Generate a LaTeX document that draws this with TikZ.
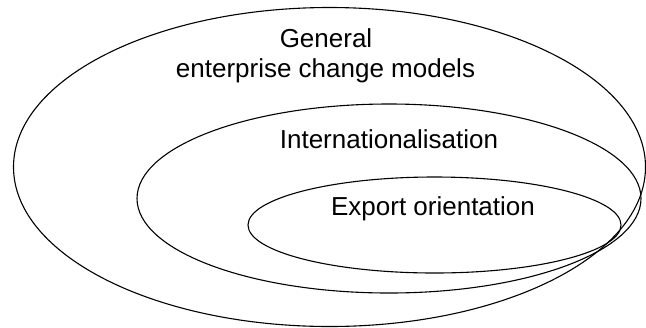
\documentclass[tikz,border=0pt]{standalone}
\usepackage{fontspec}
\setmainfont{Liberation Sans}
\begin{document}
\begin{tikzpicture}[x=1bp,y=-1bp,
  ring/.style={draw=black,line width=1.1bp},
  label/.style={anchor=base,inner sep=0pt,font=\fontsize{26bp}{30bp}\selectfont}]
\useasboundingbox (0,0) rectangle (646,327);
% three nested sets, sharing a common region on the lower right
\coordinate (outerC) at (329.5,167);
\coordinate (midC) at (389,198.5);
\coordinate (innerC) at (434.5,225);
\draw[ring] (outerC) ellipse [x radius=316,y radius=159.5];
\draw[ring] (midC) ellipse [x radius=252,y radius=94.5];
\draw[ring] (innerC) ellipse [x radius=186.5,y radius=48];
% set labels
\node[label] (general) at (326,47) {General};
\node[label] (models) at (325.5,77) {enterprise change models};
\node[label] (intl) at (389,148) {Internationalisation};
\node[label] (export) at (433,215) {Export orientation};
\end{tikzpicture}
\end{document}
